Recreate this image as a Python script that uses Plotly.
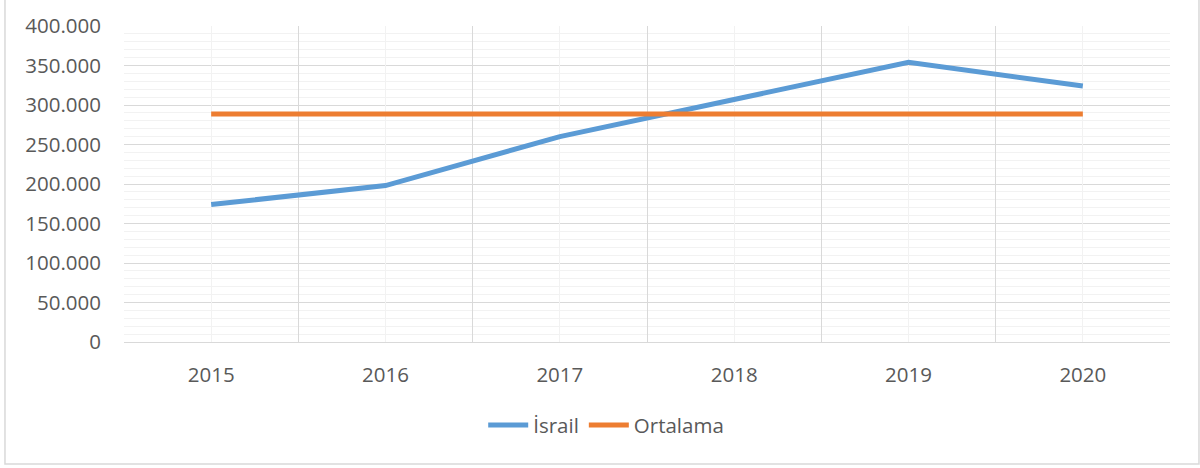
import plotly.graph_objects as go

years = ["2015", "2016", "2017", "2018", "2019", "2020"]
israil = [174000, 198000, 260000, 307000, 354000, 324000]
ortalama = [288600, 288600, 288600, 288600, 288600, 288600]

FONT = "Open Sans"
TXT = "#595959"
FS = 20.5

fig = go.Figure()
fig.add_trace(go.Scatter(x=years, y=israil, mode="lines", name="İsrail",
                         line=dict(color="#5b9bd5", width=5)))
fig.add_trace(go.Scatter(x=years, y=ortalama, mode="lines", name="Ortalama",
                         line=dict(color="#ed7d31", width=5)))

# helper axis for the light (minor) vertical gridlines at category centres
fig.add_trace(go.Scatter(x=[0, 5], y=[None, None], xaxis="x2", showlegend=False,
                         hoverinfo="skip"))

fig.update_layout(
    width=1200, height=468,
    margin=dict(l=124, r=30, t=26, b=126),
    paper_bgcolor="white", plot_bgcolor="white",
    separators=",.",
    font=dict(family=FONT, size=FS, color=TXT),
    showlegend=True,
    legend=dict(orientation="h", x=0.461, xanchor="center", y=-0.263, yanchor="middle",
                font=dict(family=FONT, size=FS, color=TXT), itemwidth=40,
                bgcolor="rgba(0,0,0,0)"),
    xaxis=dict(type="category", categoryorder="array", categoryarray=years,
               range=[-0.5, 5.5], tickson="boundaries", showgrid=True,
               gridcolor="#d9d9d9", gridwidth=1, ticks="", showline=True,
               linecolor="#d9d9d9", linewidth=1, zeroline=False,
               ticklabelstandoff=14, tickfont=dict(family=FONT, size=FS, color=TXT)),
    xaxis2=dict(type="linear", overlaying="x", anchor="y", range=[-0.5, 5.5],
                tick0=0, dtick=1, showgrid=True, gridcolor="#f2f2f2", gridwidth=1,
                showticklabels=False, ticks="", zeroline=False, showline=False),
    yaxis=dict(range=[0, 400000], dtick=50000, tick0=0, showgrid=True,
               gridcolor="#d9d9d9", gridwidth=1, zeroline=False, ticks="",
               tickformat=",.0f", ticklabelstandoff=22,
               minor=dict(dtick=10000, showgrid=True, gridcolor="#f2f2f2", gridwidth=1),
               tickfont=dict(family=FONT, size=FS, color=TXT)),
    shapes=[dict(type="rect", xref="paper", yref="paper",
                 x0=-0.1138, x1=1.0277, y0=-0.386, y1=1.1,
                 line=dict(color="#d9d9d9", width=1.5), fillcolor="rgba(0,0,0,0)",
                 layer="below")],
)

fig.write_html("out.html", config={"displayModeBar": False},
               post_script="document.body.style.margin='0';document.body.style.overflow='hidden';")
